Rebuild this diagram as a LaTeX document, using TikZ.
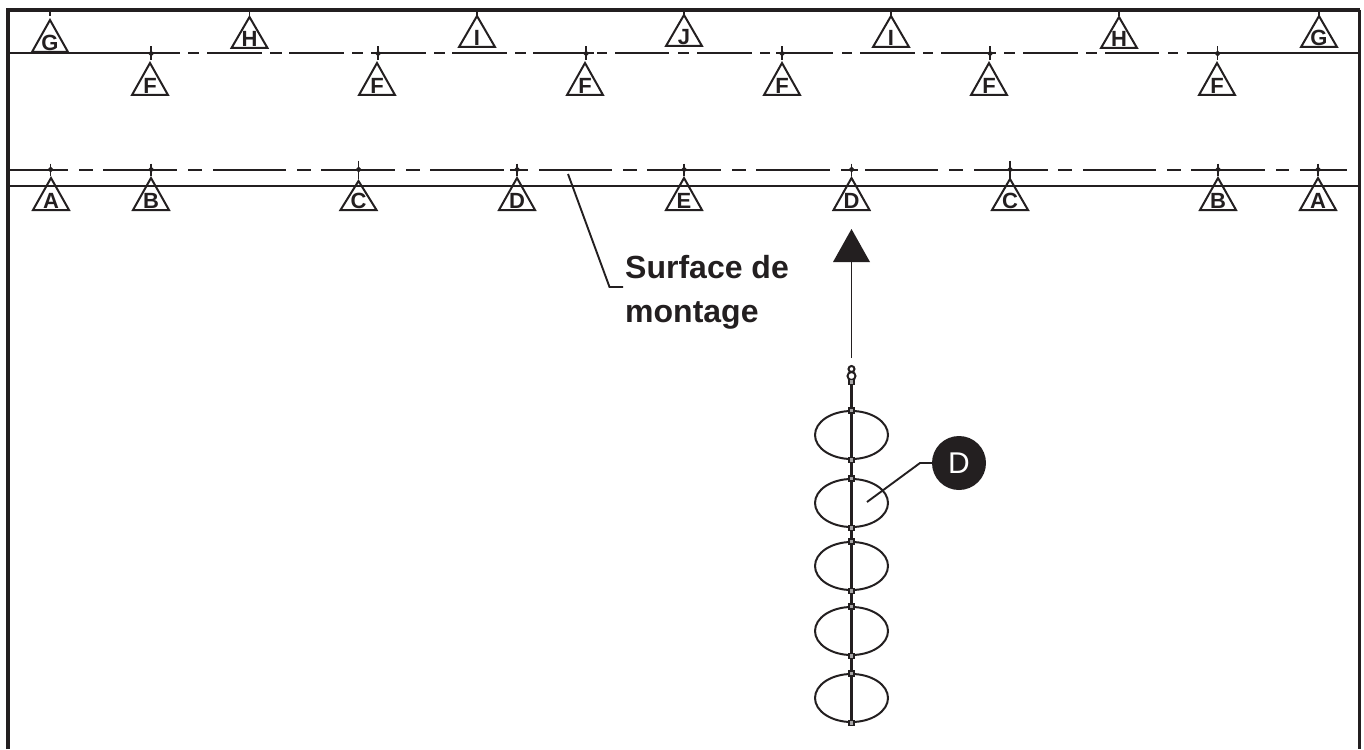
\documentclass[tikz,border=0pt]{standalone}
\usepackage{fontspec}
\usetikzlibrary{shapes.geometric}
\setmainfont{Liberation Sans}
\definecolor{ink}{HTML}{231F20}
\tikzset{
  frameline/.style={draw=ink,line width=4pt},
  axisline/.style={draw=ink,line width=2pt},
  thinline/.style={draw=ink,line width=1.9pt},
  tri/.style={draw=ink,line width=2pt,fill=none,line join=miter},
  triletter/.style={font=\bfseries\fontsize{22}{22}\selectfont,text=ink,inner sep=0pt,anchor=base},
  bigletter/.style={font=\bfseries\fontsize{32}{44}\selectfont,text=ink,inner sep=0pt,align=left},
  callout/.style={circle,fill=ink,text=white,minimum size=54pt,inner sep=0pt,font=\fontsize{30}{30}\selectfont},
  ringshape/.style={draw=ink,line width=2pt,fill=none},
  lug/.style={draw=ink,line width=1.6pt,fill=ink!40,minimum size=5pt,inner sep=0pt,rectangle}
}
\newcommand{\marktri}[5]{% name, x, apex y, base y, letter
  \draw[tri] (#2,#3) -- (#2-18,#4) -- (#2+18,#4) -- cycle;
  \node[triletter] (#1) at (#2,#4-1.5) {#5};
}
\newcommand{\crossmark}[4]{% x, y, half-height up, half-height down
  \draw[ink,line width=1.9pt] (#1,#2-#3) -- (#1,#2+#4);
  \draw[ink,line width=2pt] (#1-6,#2) -- (#1+6,#2);
  \fill[ink] (#1,#2-3) -- (#1+3,#2) -- (#1,#2+3) -- (#1-3,#2) -- cycle;
}
\begin{document}
\begin{tikzpicture}[x=1pt,y=-1pt]
\useasboundingbox (0,0) rectangle (1364,749);
% frame
\coordinate (fbl) at (7.5,749);
\coordinate (ftl) at (7.5,10);
\coordinate (ftr) at (1359.5,10);
\coordinate (fbr) at (1359.5,749);
\draw[frameline,line join=miter] (fbl) -- (ftl) -- (ftr);
\draw[draw=ink,line width=3pt] (ftr) -- (fbr);
% upper dash-dot line
\foreach \a/\b in {9/180,188/199,207/262,270/282,289/344,352/363,371/426,434/445,452/507,515/526,533/594,597/607,615/669,678/689,697/752,760/770,778/833,842/852,860/915,923/933,941/996,1004/1015,1023/1078,1086/1097,1105/1159,1168/1178,1187/1359}
  \draw[axisline] (\a,53.5) -- (\b,53.5);
% lower dash-dot line
\foreach \a/\b in {9/68,79/93,103/177,188/202,213/286,297/311,321/395,406/420,430/504,510/528,539/612,623/637,647/721,732/746,756/830,841/858,865/938,949/963,974/1048,1058/1072,1083/1156,1167/1181,1191/1265,1276/1289,1300/1347}
  \draw[axisline] (\a,169.5) -- (\b,169.5);
% mounting surface
\draw[draw=ink,line width=2pt] (9,186) -- (1359,186);
% top ticks
\foreach \x in {50,249.5,477,684,891,1119,1319}
  \draw[ink,line width=1.9pt] (\x,10) -- (\x,16);
% crosses
\foreach \x in {151,378,586,782,990,1217.5}
  \crossmark{\x}{53.5}{7}{7};
\foreach \x in {50.5,151,517,684,851.5,1218,1318}
  \crossmark{\x}{169.5}{6}{6};
\foreach \x in {358.5,1010}
  \crossmark{\x}{169.5}{9}{9};
% triangles
\marktri{g1}{50}{20}{52}{G}
\marktri{h1}{249.5}{17}{48}{H}
\marktri{i1}{477}{16}{47}{I}
\marktri{j1}{684}{15}{46}{J}
\marktri{i2}{891}{16}{47}{I}
\marktri{h2}{1119}{17}{48}{H}
\marktri{g2}{1319}{16}{47}{G}
\marktri{f1}{150}{63}{95}{F}
\marktri{f2}{377}{63}{95}{F}
\marktri{f3}{585}{63}{95}{F}
\marktri{f4}{782}{63}{95}{F}
\marktri{f5}{989}{63}{95}{F}
\marktri{f6}{1217}{63}{95}{F}
\marktri{a1}{51}{178}{210}{A}
\marktri{b1}{151}{178}{210}{B}
\marktri{c1}{358.5}{181}{210}{C}
\marktri{d1}{517}{178}{210}{D}
\marktri{e1}{684}{178}{210}{E}
\marktri{d2}{851.5}{178}{210}{D}
\marktri{c2}{1010}{179}{210}{C}
\marktri{b2}{1218}{178}{210}{B}
\marktri{a2}{1318}{178}{210}{A}
% surface label
\node[bigletter,anchor=base west] (surf) at (625,278) {Surface de};
\node[bigletter,anchor=base west] (surf2) at (625,322) {montage};
\coordinate (s0) at (568,174);
\coordinate (s1) at (609.5,287);
\coordinate (s2) at (623,287);
\draw[thinline] (s0) -- (s1) -- (s2);
% arrow
\coordinate (st) at (851.5,358);
\coordinate (ap) at (851.5,229);
\draw[thinline] (st) -- (851.5,255);
\fill[ink] (ap) -- (870,262) -- (833,262) -- cycle;
% chain
\node[ringshape,circle,minimum size=6pt,inner sep=0pt] (r1) at (851.5,369) {};
\node[ringshape,circle,minimum size=8pt,inner sep=0pt] (r2) at (851.5,376) {};
\coordinate (cb) at (851.5,725);
\draw[draw=ink,line width=3pt] (r2) -- (cb);
\foreach \n/\y in {1/435,2/503,3/566,4/631,5/698} {
  \node[ringshape,ellipse,minimum width=73pt,minimum height=48pt,inner sep=0pt] (ell\n) at (851.5,\y) {};
  \node[lug] (lt\n) at (851.5,\y-24.5) {};
  \node[lug] (lb\n) at (851.5,\y+25) {};
}
\node[lug] (l0) at (851.5,382) {};
% callout
\node[callout] (cD) at (959,463) {D};
\coordinate (cm) at (920,463);
\coordinate (ct) at (867,502);
\draw[thinline] (cD) -- (cm) -- (ct);
\end{tikzpicture}
\end{document}
